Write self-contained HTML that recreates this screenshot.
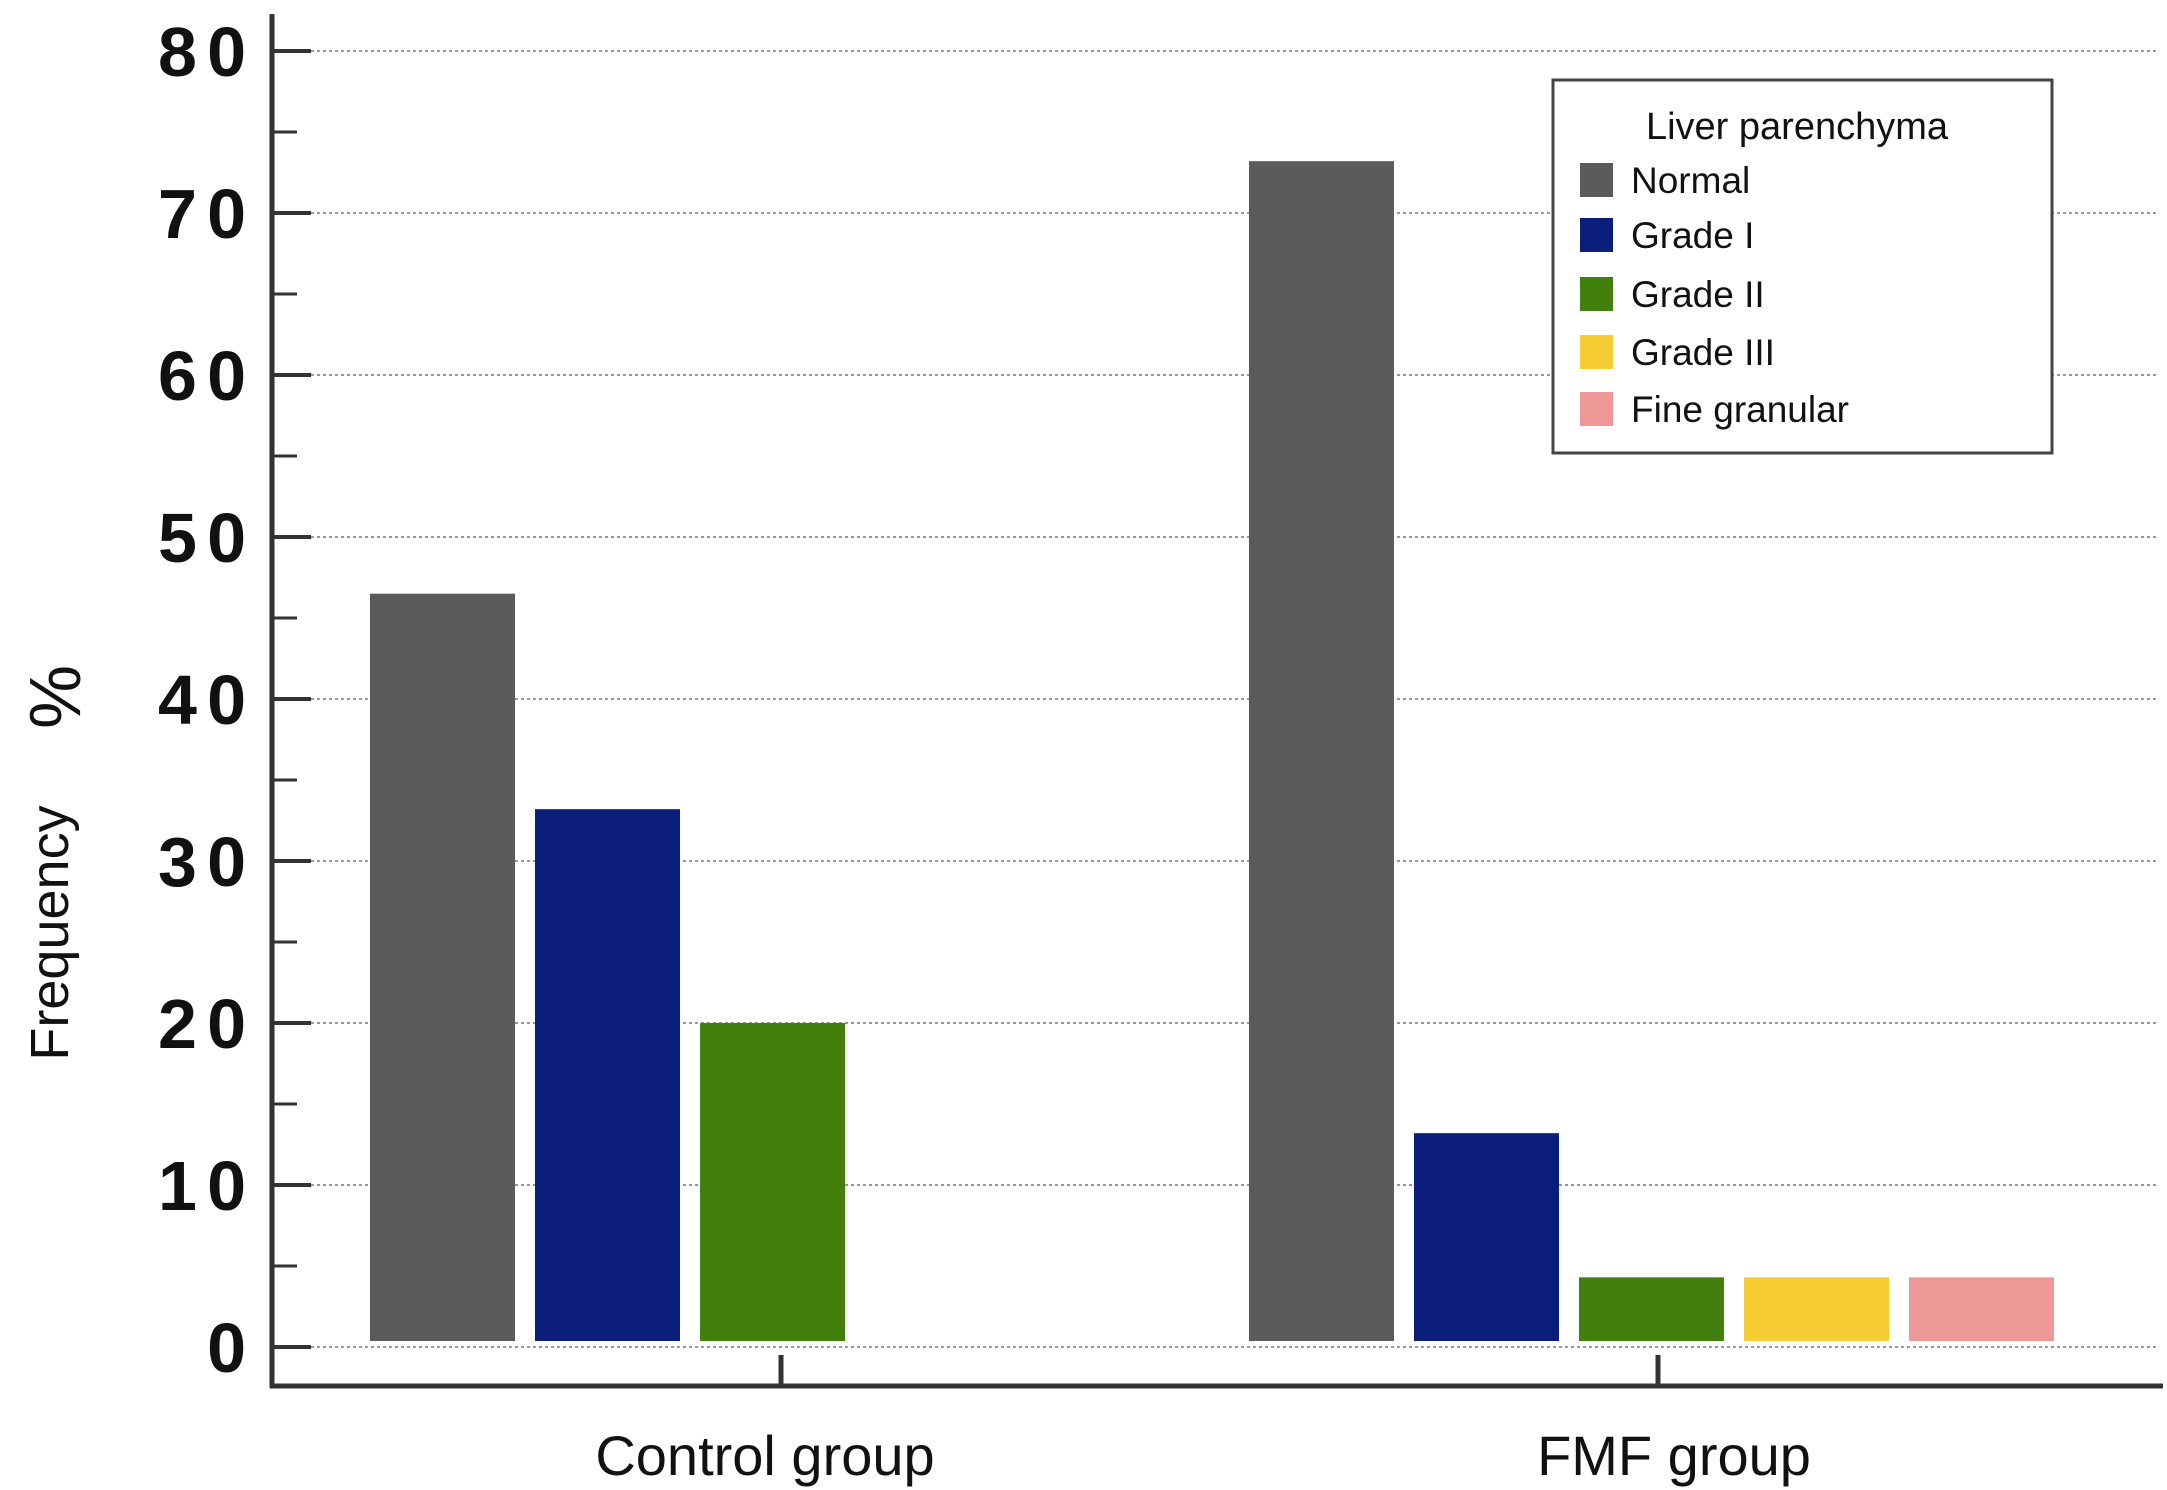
<!DOCTYPE html>
<html><head><meta charset="utf-8"><style>
html,body{margin:0;padding:0;background:#fff;}
svg{display:block;}
</style></head><body>
<svg id="chart" width="2167" height="1490" xmlns="http://www.w3.org/2000/svg" font-family="Liberation Sans, sans-serif">
<g id="grid"></g><g id="bars"></g><g id="axes"></g>
<text transform="translate(68,933) rotate(-90)" text-anchor="middle" font-size="54" fill="#111">Frequency</text>
<text transform="translate(80,697) rotate(-90)" text-anchor="middle" font-size="72" fill="#111">%</text>
<g>
<rect x="1553" y="80" width="499" height="373" fill="#fff" stroke="#444" stroke-width="3"/>
<text x="1797" y="139" text-anchor="middle" font-size="38" fill="#111">Liver parenchyma</text>
<g id="legend-items"></g>
</g>
</svg>
<script>
const categories = ["Control group", "FMF group"];
const seriesNames = ["Normal", "Grade I", "Grade II", "Grade III", "Fine granular"];
const colors = ["#5b5b5b", "#0b1f7a", "#41800c", "#f6cc35", "#ee9797"];
const controlValues = [46.5, 33.2, 20];
const fmfValues = [73.2, 13.2, 4.3, 4.3, 4.3];
const yTicks = [0, 10, 20, 30, 40, 50, 60, 70, 80];
const NS = "http://www.w3.org/2000/svg";
const y0 = 1347, yTop = 51, yMax = 80;
const yScale = v => y0 - (y0 - yTop) * v / yMax;
const groupStart = [370, 1249];
const barW = 145, barStep = 165;
const groupCenters = [781, 1658];
const labelCenters = [765, 1674];
function mk(tag, attrs, parent){const e=document.createElementNS(NS,tag);for(const k in attrs)e.setAttribute(k,attrs[k]);parent.appendChild(e);return e;}
const grid=document.getElementById('grid'), bars=document.getElementById('bars'), axes=document.getElementById('axes');
yTicks.forEach((t,i)=>{
  const y=yScale(t);
  const gl=mk('line',{x1:311,x2:2159,y1:y,y2:y,stroke:'#999','stroke-width':2,'stroke-dasharray':'3 3'},grid);
  
  
  const tk=mk('line',{x1:272,x2:311,y1:y,y2:y,stroke:'#333','stroke-width':4},axes);
  
  
  const lb=mk('text',{x:246,y:y+25,'text-anchor':'end','font-size':70,'font-weight':'bold',fill:'#111'},axes);
  lb.textContent=t;
  if(t>=10) lb.setAttribute('textLength', 88);
  
  
  if(i<yTicks.length-1){
    const ym=yScale(t+5);
    const mt=mk('line',{x1:272,x2:297,y1:ym,y2:ym,stroke:'#333','stroke-width':3},axes);
    
    
  }
});
const ax=mk('line',{x1:272,x2:272,y1:14,y2:1388,stroke:'#333','stroke-width':5},axes);


const xa=mk('line',{x1:270,x2:2163,y1:1386,y2:1386,stroke:'#333','stroke-width':5},axes);


[controlValues, fmfValues].forEach((vals,g)=>{
  vals.forEach((v,i)=>{
    const x=groupStart[g]+i*barStep, yt=yScale(v);
    const r=mk('rect',{x:x,y:yt,width:barW,height:(y0-6)-yt,fill:colors[i]},bars);
    
    
  });
  const gt=mk('line',{x1:groupCenters[g],x2:groupCenters[g],y1:1386,y2:1355,stroke:'#333','stroke-width':5},axes);
  
  
  const gl=mk('text',{x:labelCenters[g],y:1475,'text-anchor':'middle','font-size':56,fill:'#111'},axes);
  gl.textContent=categories[g];
  
  
});
const li=document.getElementById('legend-items');
const ly=[180,235,294,352,409];
seriesNames.forEach((n,i)=>{
  const s=mk('rect',{x:1580,y:ly[i]-17,width:33,height:34,fill:colors[i]},li);
  
  
  const t=mk('text',{x:1631,y:ly[i]+13,'font-size':37,fill:'#111'},li);
  t.textContent=n;
  
  
});
</script>
</body></html>
